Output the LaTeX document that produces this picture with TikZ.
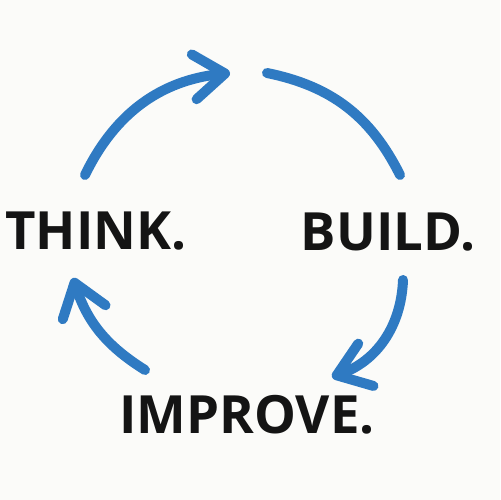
\documentclass[tikz,border=0pt]{standalone}
\usepackage{fontspec}
\setmainfont{Open Sans}
\usetikzlibrary{arrows.meta}
\definecolor{cycblue}{HTML}{2F7AC2}
\definecolor{ink}{HTML}{141414}
\definecolor{paper}{HTML}{FBFBF9}
\begin{document}
\begin{tikzpicture}[x=0.02cm,y=0.02cm,
  arc/.style={draw=cycblue,line width=0.2cm,line cap=round},
  tip/.style={-{Straight Barb[round,length=0.62cm,width=0.9cm]}},
  word/.style={text=ink,font=\fontsize{30}{30}\selectfont\bfseries,anchor=base,inner sep=0pt}]
\fill[paper] (0,0) rectangle (500,500);
\useasboundingbox (0,0) rectangle (500,500);
\node[word] (think) at (96,250) {THINK.};
\node[word] (build) at (388,249) {BUILD.};
\node[word] (improve) at (247,66) {IMPROVE.};
\coordinate (a1s) at (85,325);
\coordinate (a1e) at (230,427);
\coordinate (a2s) at (267,427);
\coordinate (a2e) at (400,325);
\coordinate (a3s) at (403,220);
\coordinate (a3e) at (332,123);
\coordinate (a4s) at (145,130);
\coordinate (a4e) at (73,222);
\draw[arc,tip] (a1s) to[bend left=29] (a1e);
\draw[arc] (a2s) to[bend left=26] (a2e);
\draw[arc,tip] (a3s) to[bend left=34] (a3e);
\draw[arc,tip] (a4s) to[bend left=20] (a4e);
\end{tikzpicture}
\end{document}
